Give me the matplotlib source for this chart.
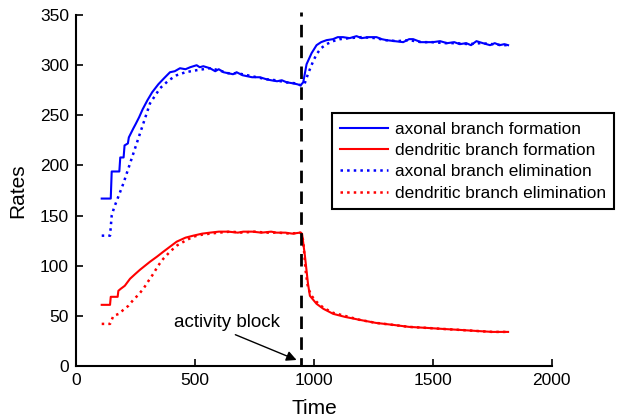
import matplotlib
matplotlib.use('Agg')
import matplotlib.pyplot as plt

plt.rcParams['font.family'] = ['Liberation Sans', 'DejaVu Sans']

# axonal branch formation (solid blue)
axon_form_t = [108, 146, 150, 182, 186, 200, 204, 218, 222, 241,
               250, 265, 280, 300, 320, 346, 370, 395, 415, 437,
               460, 480, 507, 520, 535, 563, 585, 600, 620, 640,
               660, 675, 700, 720, 740, 773, 800, 820, 845, 865,
               885, 910, 930, 944, 955, 969, 990, 1011, 1030, 1053,
               1080, 1100, 1122, 1150, 1179, 1200, 1230, 1263, 1285, 1305,
               1340, 1375, 1400, 1417, 1450, 1500, 1530, 1560, 1590, 1613,
               1640, 1660, 1683, 1710, 1740, 1760, 1781, 1800, 1816]
axon_form_v = [167, 167, 194, 194, 208, 208, 220, 222, 228, 237,
               241, 248, 256, 265, 273, 281, 287, 293, 294, 297,
               296, 298, 300, 298, 299, 297, 294, 296, 293, 292,
               291, 293, 290, 289, 288, 288, 286, 285, 284, 285,
               283, 282, 281, 280, 283, 301, 312, 320, 323, 325,
               326, 328, 328, 327, 329, 327, 328, 328, 326, 325,
               324, 323, 326, 326, 323, 323, 324, 322, 323, 321,
               322, 320, 324, 322, 320, 322, 320, 321, 320]

# dendritic branch formation (solid red)
dend_form_t = [108, 143, 146, 175, 178, 188, 205, 227, 250, 269,
               290, 311, 340, 367, 395, 423, 460, 493, 530, 563,
               600, 640, 680, 703, 740, 780, 820, 843, 880, 910,
               941, 950, 962, 975, 983, 1011, 1040, 1081, 1130, 1193,
               1260, 1333, 1400, 1474, 1540, 1613, 1680, 1750, 1816]
dend_form_v = [61, 61, 69, 69, 75, 77, 80, 87, 92, 96,
               100, 104, 109, 114, 119, 124, 128, 130, 132, 133,
               134, 134, 133, 134, 134, 133, 134, 133, 133, 132,
               133, 132, 110, 82, 70, 62, 57, 52, 49, 46,
               43, 41, 39, 38, 37, 36, 35, 34, 34]

# axonal branch elimination (dotted blue)
axon_elim_t = [108, 143, 150, 160, 178, 199, 227, 255, 283, 311,
               353, 390, 423, 460, 507, 563, 600, 640, 680, 720,
               760, 800, 840, 880, 920, 944, 960, 976, 995, 1011,
               1030, 1053, 1080, 1110, 1150, 1200, 1260, 1300, 1350, 1400,
               1450, 1500, 1550, 1600, 1650, 1700, 1750, 1790, 1816]
axon_elim_v = [130, 130, 150, 158, 169, 182, 202, 222, 242, 262,
               277, 285, 290, 293, 295, 297, 295, 292, 292, 290,
               288, 286, 285, 283, 282, 280, 281, 292, 303, 311,
               317, 321, 324, 326, 327, 328, 327, 325, 324, 325,
               323, 323, 322, 322, 321, 322, 321, 320, 320]

# dendritic branch elimination (dotted red)
dend_elim_t = [108, 143, 157, 180, 199, 220, 241, 262, 283, 305,
               325, 345, 367, 395, 423, 460, 493, 530, 563, 600,
               650, 700, 750, 800, 850, 900, 944, 955, 965, 975,
               990, 1011, 1040, 1081, 1130, 1193, 1260, 1333, 1400, 1474,
               1540, 1613, 1680, 1750, 1816]
dend_elim_v = [42, 42, 50, 52, 56, 60, 66, 71, 77, 85,
               92, 100, 107, 114, 120, 125, 129, 131, 132, 133,
               134, 133, 134, 133, 133, 132, 133, 125, 95, 78,
               70, 64, 58, 53, 50, 46, 43, 41, 39, 38,
               37, 36, 35, 34, 34]

block_time = 945

fig = plt.figure(figsize=(6.18, 4.19), dpi=100)
ax = fig.add_axes([0.123, 0.1265, 0.77, 0.8375])

ax.plot(axon_form_t, axon_form_v, color='blue', lw=1.5, label='axonal branch formation')
ax.plot(dend_form_t, dend_form_v, color='red', lw=1.5, label='dendritic branch formation')
ax.plot(axon_elim_t, axon_elim_v, color='blue', lw=1.8, ls=':', label='axonal branch elimination')
ax.plot(dend_elim_t, dend_elim_v, color='red', lw=1.8, ls=':', label='dendritic branch elimination')

ax.axvline(block_time, ymax=1.01, color='black', lw=2, ls=(1.5, (4.5, 3)), clip_on=False)
ax.annotate('activity block', xy=(927, 6), xytext=(636, 43),
            ha='center', va='center', fontsize=13.5,
            arrowprops=dict(arrowstyle='-|>', color='black', lw=1, mutation_scale=15,
                            shrinkA=1, shrinkB=0, relpos=(0.5, 0)))

ax.set_xlim(0, 2000)
ax.set_ylim(0, 350)
ax.set_xticks([0, 500, 1000, 1500, 2000])
ax.set_yticks(range(0, 351, 50))
ax.tick_params(direction='in', length=5, width=1.2, labelsize=12.5, pad=5)
ax.spines['top'].set_visible(False)
ax.spines['right'].set_visible(False)
ax.spines['left'].set_linewidth(1.5)
ax.spines['bottom'].set_linewidth(1.5)
ax.set_xlabel('Time', fontsize=15, labelpad=8)
ax.set_ylabel('Rates', fontsize=15, labelpad=9)

leg = ax.legend(loc='upper left', bbox_to_anchor=(0.537, 0.730), bbox_transform=fig.transFigure,
                fontsize=12.4, frameon=True, fancybox=False, borderaxespad=0,
                handlelength=2.75, handletextpad=0.4, labelspacing=0.36, borderpad=0.5)
leg.get_frame().set_edgecolor('black')
leg.get_frame().set_linewidth(1.5)
leg.get_frame().set_alpha(1)

fig.savefig('out.png', dpi=100)
